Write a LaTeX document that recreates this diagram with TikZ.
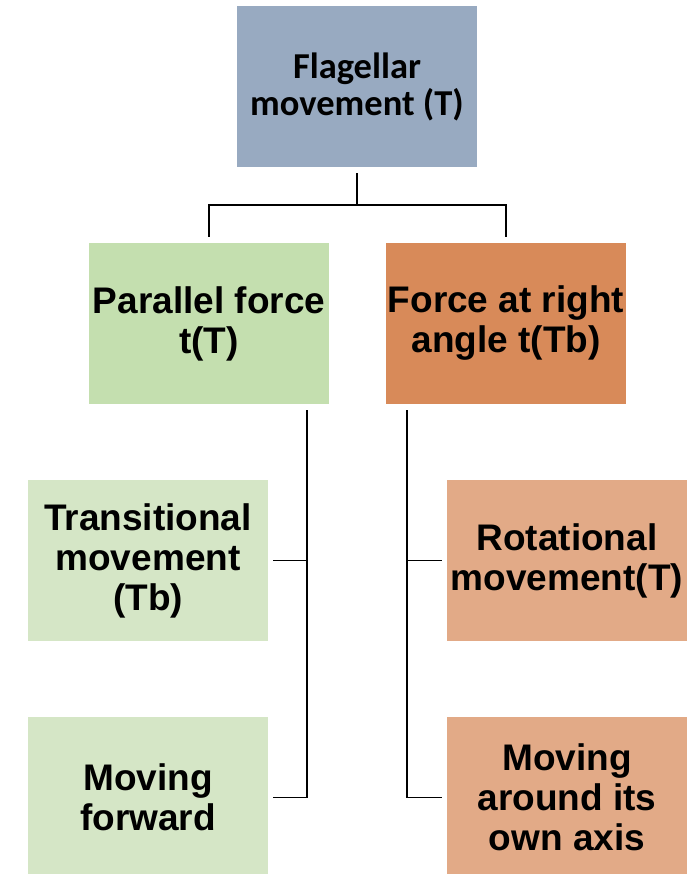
\documentclass[tikz,border=0pt]{standalone}
\usepackage{fontspec}
\setmainfont{Liberation Sans}
\newfontfamily\topfont{Carlito}
\definecolor{topblue}{HTML}{98AAC1}
\definecolor{grnA}{HTML}{C4DFAF}
\definecolor{orgA}{HTML}{D88A59}
\definecolor{grnB}{HTML}{D5E6C6}
\definecolor{orgB}{HTML}{E2AA87}
\tikzset{
  box/.style={rectangle, draw=none, minimum width=240pt, minimum height=161pt, inner sep=0pt, align=center, text=black},
  bodytxt/.style={font=\fontsize{37}{40}\selectfont\bfseries},
  toptxt/.style={font=\topfont\fontsize{36.5}{37}\selectfont\bfseries},
  conn/.style={draw=black, line width=1.5pt}
}
\begin{document}
\begin{tikzpicture}[x=1pt, y=-1pt]
\useasboundingbox (0,0) rectangle (700,874);
\begin{scope}
\clip (0,0) rectangle (700,874);
\node[box, toptxt, fill=topblue] (top) at (357,86.5) {Flagellar\\movement (T)};
\node[box, bodytxt, fill=grnA] (pl) at (209,323.5) {Parallel force\\t(T)};
\node[box, bodytxt, fill=orgA] (ra) at (506,323.5) {Force at right\\angle t(Tb)};
\node[box, bodytxt, fill=grnB] (tm) at (148,560.5) {Transitional\\movement\\(Tb)};
\node[box, bodytxt, fill=grnB] (mf) at (148,797.5) {Moving\\forward};
\node[box, bodytxt, fill=orgB] (rm) at (567,560.5) {Rotational\\movement(T)};
\node[box, bodytxt, fill=orgB] (ma) at (567,797.5) {Moving\\around its\\own axis};
\end{scope}
\draw[conn, shorten <=6pt, shorten >=6pt] (top.south) -- ++(0,38) -| (pl.north);
\draw[conn, shorten <=6pt, shorten >=6pt] (top.south) -- ++(0,38) -| (ra.north);
\draw[conn, shorten >=5pt] ([xshift=-22pt,yshift=-6pt]pl.south east) |- (tm.east);
\draw[conn, shorten >=5pt] ([xshift=-22pt,yshift=-6pt]pl.south east) |- (mf.east);
\draw[conn, shorten >=5pt] ([xshift=21pt,yshift=-6pt]ra.south west) |- (rm.west);
\draw[conn, shorten >=5pt] ([xshift=21pt,yshift=-6pt]ra.south west) |- (ma.west);
\end{tikzpicture}
\end{document}
